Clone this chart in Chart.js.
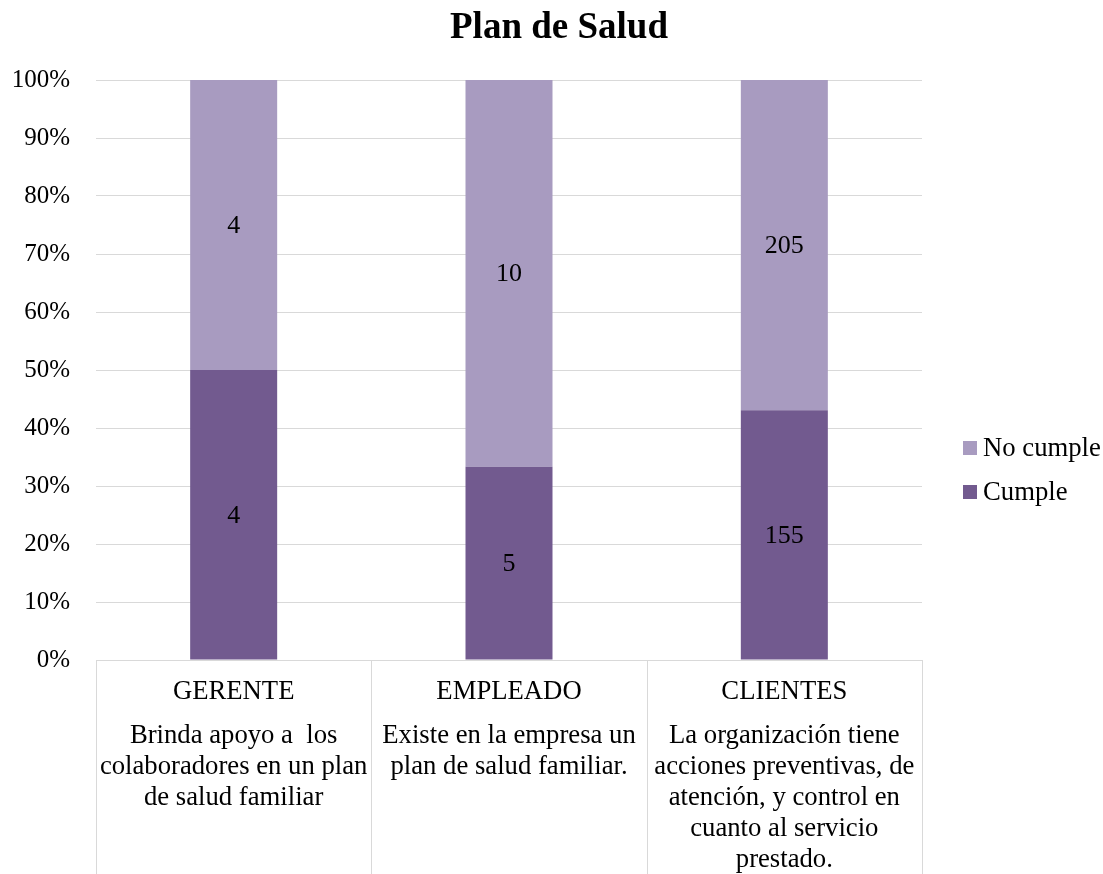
<!DOCTYPE html>
<html>
<head>
<meta charset="utf-8">
<title>Plan de Salud</title>
<script src="https://cdn.jsdelivr.net/npm/chart.js@4.4.1/dist/chart.umd.min.js"></script>
<style>
  html, body { margin: 0; padding: 0; background: #fff; }
  #wrap { width: 1103px; height: 874px; }
</style>
</head>
<body>
<div id="wrap"><canvas id="saludChart"></canvas></div>
<script>
// categorias del eje y su descripcion (varias lineas)
const categorias = ['GERENTE', 'EMPLEADO', 'CLIENTES'];
const descripciones = [
  ['Brinda apoyo a  los', 'colaboradores en un plan', 'de salud familiar'],
  ['Existe en la empresa un', 'plan de salud familiar.'],
  ['La organización tiene', 'acciones preventivas, de', 'atención, y control en', 'cuanto al servicio', 'prestado.']
];

// conteos por categoria
const cumple = [4, 5, 155];
const noCumple = [4, 10, 205];

const etiquetasY = ['0%', '10%', '20%', '30%', '40%', '50%', '60%', '70%', '80%', '90%', '100%'];

const FUENTE = "'Liberation Serif', 'Times New Roman', serif";
const colorCumple = '#725A8F';
const colorNoCumple = '#A89BC0';
const colorGrid = '#D9D9D9';

// porcentajes para el apilado al 100%
const totales = cumple.map((v, i) => v + noCumple[i]);
const pctCumple = cumple.map((v, i) => v / totales[i] * 100);
const pctNoCumple = noCumple.map((v, i) => v / totales[i] * 100);

const extras = {
  id: 'extras',
  afterDatasetsDraw(chart) {
    const ctx = chart.ctx;
    ctx.save();
    ctx.font = '26px ' + FUENTE;
    ctx.fillStyle = '#000';
    ctx.textAlign = 'center';
    ctx.textBaseline = 'middle';
    chart.data.datasets.forEach((ds, di) => {
      const meta = chart.getDatasetMeta(di);
      meta.data.forEach((bar, i) => {
        const y = (bar.y + bar.base) / 2;
        ctx.fillText(String(ds.conteos[i]), bar.x, y + 1);
      });
    });
    ctx.restore();
  },
  afterDraw(chart) {
    const ctx = chart.ctx;
    const area = chart.chartArea;
    const x = chart.scales.x;
    ctx.save();

    // titulo
    ctx.font = 'bold 37px ' + FUENTE;
    ctx.fillStyle = '#000';
    ctx.textAlign = 'center';
    ctx.textBaseline = 'alphabetic';
    ctx.fillText('Plan de Salud', 559, 38);

    // separadores de la tabla de categorias
    ctx.strokeStyle = colorGrid;
    ctx.lineWidth = 1;
    const bordes = [x.left];
    for (let i = 0; i < categorias.length - 1; i++) {
      bordes.push((x.getPixelForValue(i) + x.getPixelForValue(i + 1)) / 2);
    }
    bordes.push(x.right);
    bordes.forEach(px => {
      const p = Math.round(px) + 0.5;
      ctx.beginPath();
      ctx.moveTo(p, area.bottom);
      ctx.lineTo(p, chart.height);
      ctx.stroke();
    });

    // textos de categoria
    ctx.font = '26.7px ' + FUENTE;
    ctx.fillStyle = '#000';
    ctx.textBaseline = 'middle';
    categorias.forEach((c, i) => {
      const cx = x.getPixelForValue(i);
      ctx.fillText(c, cx, area.bottom + 32);
      descripciones[i].forEach((linea, j) => {
        ctx.fillText(linea, cx, area.bottom + 76 + j * 31);
      });
    });

    // leyenda
    const items = [chart.data.datasets[1], chart.data.datasets[0]];
    items.forEach((ds, k) => {
      const cy = 448 + k * 44;
      ctx.fillStyle = ds.backgroundColor;
      ctx.fillRect(area.right + 41, cy - 7, 14, 14);
      ctx.fillStyle = '#000';
      ctx.textAlign = 'left';
      ctx.fillText(ds.label, area.right + 61, cy + 1);
    });
    ctx.restore();
  }
};

new Chart(document.getElementById('saludChart'), {
  type: 'bar',
  data: {
    labels: categorias,
    datasets: [
      {
        label: 'Cumple',
        data: pctCumple,
        conteos: cumple,
        backgroundColor: colorCumple,
        categoryPercentage: 1,
        barPercentage: 0.316
      },
      {
        label: 'No cumple',
        data: pctNoCumple,
        conteos: noCumple,
        backgroundColor: colorNoCumple,
        categoryPercentage: 1,
        barPercentage: 0.316
      }
    ]
  },
  options: {
    responsive: true,
    maintainAspectRatio: false,
    animation: false,
    layout: { padding: { top: 80, right: 181, bottom: 0, left: 0 } },
    plugins: {
      legend: { display: false },
      title: { display: false },
      tooltip: { enabled: false }
    },
    scales: {
      x: {
        stacked: true,
        grid: { display: false },
        border: { display: false },
        ticks: { display: false },
        afterFit(scale) { scale.height = 214; }
      },
      y: {
        stacked: true,
        min: 0,
        max: 100,
        grid: { color: colorGrid, lineWidth: 1, drawTicks: false },
        border: { display: false },
        ticks: {
          stepSize: 10,
          padding: 26,
          color: '#000',
          font: { family: FUENTE, size: 25 },
          callback: (v, i) => etiquetasY[i]
        },
        afterFit(scale) { scale.width = 96; }
      }
    }
  },
  plugins: [extras]
});
</script>
</body>
</html>
